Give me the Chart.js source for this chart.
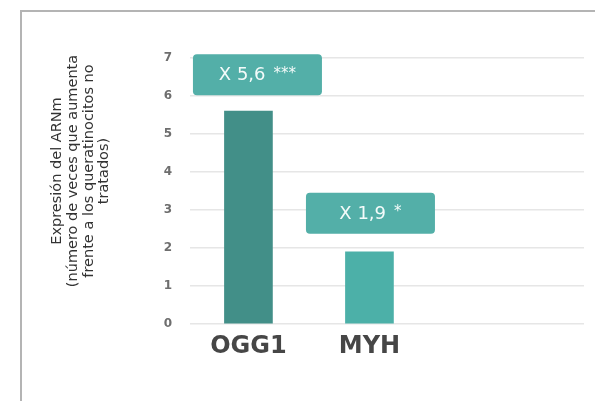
<!DOCTYPE html>
<html>
<head>
<meta charset="utf-8">
<script src="https://cdn.jsdelivr.net/npm/chart.js@4/dist/chart.umd.min.js"></script>
<style>
html,body{margin:0;padding:0;background:#fff;}
#wrap{position:relative;width:595px;height:401px;overflow:hidden;}
#frame{position:absolute;left:20px;top:10px;width:600px;height:420px;border-left:2px solid #b4b4b4;border-top:2px solid #b4b4b4;box-sizing:border-box;}
canvas{position:absolute;left:0;top:0;}
</style>
</head>
<body>
<div id="wrap">
<div id="frame"></div>
<canvas id="c" width="595" height="401"></canvas>
</div>
<script>
const categories = ['OGG1', 'MYH'];
const values = [5.6, 1.9];
const annotations = ['X 5,6 ***', 'X 1,9 *'];
const yTicks = [0, 1, 2, 3, 4, 5, 6, 7];
const yTitle = ['Expresión del ARNm', '(número de veces que aumenta', 'frente a los queratinocitos no', 'tratados)'];

const barColors = ['#428f88', '#4cb0a8'];
const boxStyle = [{dx: 9, gap: 16}, {dx: 1, gap: 18}];

const annotationPlugin = {
  id: 'boxes',
  afterDatasetsDraw(chart) {
    const ctx = chart.ctx;
    const xs = chart.scales.x, ys = chart.scales.y;
    annotations.forEach((txt, i) => {
      const cx = xs.getPixelForValue(i) + boxStyle[i].dx;
      const bottom = ys.getPixelForValue(values[i]) - boxStyle[i].gap;
      const w = 129, h = 41;
      const x0 = cx - w / 2, y0 = bottom - h;
      ctx.save();
      ctx.fillStyle = '#53afa8';
      ctx.beginPath();
      ctx.roundRect(x0, y0, w, h, 4);
      ctx.fill();
      const parts = txt.match(/^(.*?)\s*(\**)$/);
      const main = parts[1], stars = parts[2];
      ctx.fillStyle = '#f4fbfa';
      ctx.textBaseline = 'middle';
      const mainFont = '18px "DejaVu Sans"';
      const starFont = '15px "DejaVu Sans"';
      ctx.font = mainFont;
      const mw = ctx.measureText(main).width;
      ctx.font = starFont;
      const sw = stars ? ctx.measureText(stars).width + 8 : 0;
      const tx = cx - (mw + sw) / 2;
      ctx.font = mainFont;
      ctx.textAlign = 'left';
      ctx.fillText(main, tx, y0 + h / 2 + 1);
      if (stars) {
        ctx.font = starFont;
        ctx.fillText(stars, tx + mw + 8, y0 + h / 2 - 1);
      }
      ctx.restore();
    });
  }
};

const titlePlugin = {
  id: 'ytitle',
  afterDraw(chart) {
    const ctx = chart.ctx;
    ctx.save();
    ctx.translate(81, 171);
    ctx.rotate(-Math.PI / 2);
    ctx.fillStyle = '#333333';
    ctx.font = '14.5px "DejaVu Sans"';
    ctx.textAlign = 'center';
    ctx.textBaseline = 'middle';
    const lh = 15.7;
    yTitle.forEach((line, i) => {
      ctx.fillText(line, 0, (i - (yTitle.length - 1) / 2) * lh);
    });
    ctx.restore();
  }
};

new Chart(document.getElementById('c'), {
  type: 'bar',
  data: {
    datasets: [{
      data: values.map((v, i) => ({x: i, y: v})),
      backgroundColor: barColors,
      barThickness: 48
    }]
  },
  options: {
    responsive: false,
    animation: false,
    events: [],
    layout: {padding: {top: 58, right: 11, bottom: 0, left: 0}},
    plugins: {legend: {display: false}, tooltip: {enabled: false}},
    scales: {
      x: {
        type: 'linear',
        offset: false,
        min: -0.483,
        max: 2.773,
        grid: {display: false, drawTicks: false, offset: false},
        border: {display: false},
        afterBuildTicks: (s) => { s.ticks = categories.map((c, i) => ({value: i})); },
        afterFit: (s) => { s.height = 77; },
        ticks: {
          autoSkip: false,
          maxRotation: 0,
          padding: 8,
          color: '#464646',
          font: {family: '"DejaVu Sans"', size: 24, weight: 'bold'},
          callback: (v) => categories[v] !== undefined ? categories[v] : ''
        }
      },
      y: {
        min: 0,
        max: 7,
        afterBuildTicks: (s) => { s.ticks = yTicks.map(v => ({value: v})); },
        afterFit: (s) => { s.width = 190; },
        grid: {color: '#e6e6e6', lineWidth: 1.5, drawTicks: false},
        border: {display: false},
        ticks: {
          padding: 18,
          color: '#6e6e6e',
          font: {family: '"DejaVu Sans"', size: 12, weight: 'bold'}
        }
      }
    }
  },
  plugins: [annotationPlugin, titlePlugin]
});
</script>
</body>
</html>
